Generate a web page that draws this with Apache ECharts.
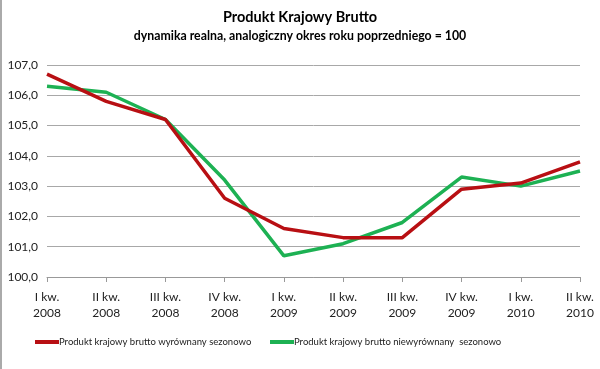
<!DOCTYPE html>
<html><head><meta charset="utf-8">
<script src="https://cdn.jsdelivr.net/npm/echarts@6/dist/echarts.min.js"></script>
<style>html,body{margin:0;padding:0;background:#fff}#c{width:600px;height:369px}</style>
</head><body><div id="c"></div>
<script>
const categories = ["I kw.\n2008","II kw.\n2008","III kw.\n2008","IV kw.\n2008","I kw.\n2009","II kw.\n2009","III kw.\n2009","IV kw.\n2009","I kw.\n2010","II kw.\n2010"];
const seasonallyAdjusted = [106.7,105.8,105.2,102.6,101.6,101.3,101.3,102.9,103.1,103.8];
const notAdjusted = [106.3,106.1,105.2,103.2,100.7,101.1,101.8,103.3,103.0,103.5];
const seriesNames = ["Produkt krajowy brutto wyrównany sezonowo","Produkt krajowy brutto niewyrównany  sezonowo"];
const titleText = "Produkt Krajowy Brutto";
const subtitleText = "dynamika realna, analogiczny okres roku poprzedniego = 100";

const FONT = "Lato, 'Open Sans', sans-serif";
const legendBase = {
  top:332, itemWidth:24, itemHeight:4, icon:'rect', orient:'horizontal',
  textStyle:{fontFamily:FONT,fontSize:9.5,color:'#222',padding:[0,0,0,-5]}
};
const chart = echarts.init(document.getElementById('c'), null, {renderer:'canvas'});
chart.setOption({
  animation:false,
  backgroundColor:'#fff',
  title:{
    text:titleText, subtext:subtitleText, left:'center', top:5, itemGap:5,
    textStyle:{fontFamily:FONT,fontSize:14.5,fontWeight:'bold',color:'#000'},
    subtextStyle:{fontFamily:FONT,fontSize:12.3,fontWeight:'bold',color:'#000'}
  },
  legend:[
    Object.assign({left:30, data:[seriesNames[0]]}, legendBase),
    Object.assign({left:265, data:[seriesNames[1]]}, legendBase)
  ],
  grid:{left:47, right:20, top:65, bottom:92, containLabel:false},
  xAxis:{
    type:'category', data:categories, boundaryGap:false,
    axisLine:{lineStyle:{color:'#999'}},
    axisTick:{show:true,length:5,lineStyle:{color:'#999'}},
    axisLabel:{fontFamily:FONT,fontSize:12,color:'#222',lineHeight:16,margin:12,interval:0,align:'center'}
  },
  yAxis:{
    type:'value', min:100, max:107, interval:1,
    axisLine:{show:false}, axisTick:{show:false},
    splitLine:{lineStyle:{color:'#a8a8a8'}},
    axisLabel:{fontFamily:FONT,fontSize:12,color:'#222',margin:9,
      formatter:v=>v.toFixed(1).replace('.',',')}
  },
  series:[
    {name:seriesNames[0],type:'line',data:seasonallyAdjusted,symbol:'none',
     lineStyle:{color:'#b80f13',width:3.5},itemStyle:{color:'#b80f13'},z:3},
    {name:seriesNames[1],type:'line',data:notAdjusted,symbol:'none',
     lineStyle:{color:'#1db153',width:3.5},itemStyle:{color:'#1db153'},z:2}
  ],
  graphic:[{type:'line',shape:{x1:1,y1:0,x2:1,y2:369},style:{stroke:'#aaa',lineWidth:2}}]
});
</script></body></html>
